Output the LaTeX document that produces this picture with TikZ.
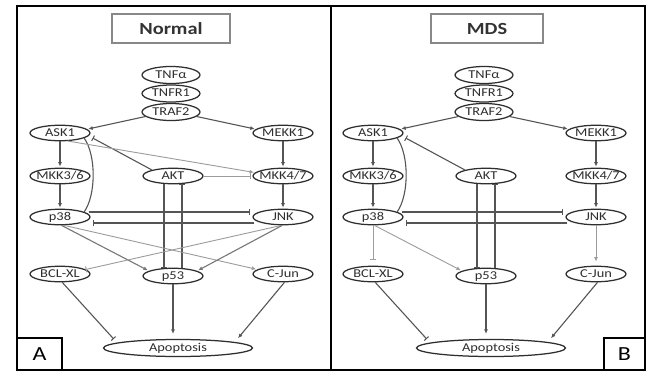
\documentclass[tikz,border=0pt]{standalone}
\usepackage{fontspec}
\setmainfont{Carlito}
\newfontfamily\nodefont[FakeStretch=1.2]{Carlito}
\usetikzlibrary{arrows.meta,calc,shapes.geometric}
\definecolor{edgec}{HTML}{555555}
\definecolor{midc}{HTML}{777777}
\definecolor{lightc}{HTML}{9C9C9C}
\definecolor{nodec}{HTML}{2E2E2E}
\definecolor{titlec}{HTML}{888888}
\begin{document}
\begin{tikzpicture}[x=1pt,y=-1pt,
  el/.style={draw=nodec, line width=1.25pt, ellipse, inner xsep=-6pt, inner ysep=-1pt,
    text height=8.5pt, text depth=2pt, minimum width=60pt, minimum height=15.5pt,
    text=nodec, font=\nodefont\fontsize{12}{12}\selectfont},
  titlebox/.style={draw=titlec, line width=1.3pt, minimum height=29pt, inner sep=0pt,
    text=black!80, font=\nodefont\bfseries\fontsize{17}{17}\selectfont},
  lblbox/.style={draw=black, line width=1.8pt, inner sep=0pt, font=\nodefont\fontsize{20}{20}\selectfont},
  frame/.style={draw=black, line width=1.6pt},
  act/.style={draw=edgec, line width=1.1pt, -{Latex[length=4.5pt,width=4pt]}, shorten >=1pt},
  inh/.style={draw=edgec, line width=1.1pt, -{Bar[width=6pt,line width=1pt]}},
  mid/.style={draw=midc},
  light/.style={draw=lightc, line width=0.9pt},
]
\useasboundingbox (0,0) rectangle (646,372);
\fill[white] (0,0) rectangle (646,372);

% frame
\draw[frame] (17,6) rectangle (645,370);
\draw[frame] (331,6) -- (331,370);

% titles and panel labels
\node[titlebox, minimum width=118pt] (tA) at (171,28.5) {Normal};
\node[titlebox, minimum width=112pt] (tB) at (487,28.5) {MDS};
\node[lblbox, minimum width=45pt, minimum height=32pt] (lA) at (39.5,354) {A};
\node[lblbox, minimum width=41pt, minimum height=32pt] (lB) at (624.5,354) {B};

\foreach \p/\dx in {A/0,B/313}{
  \begin{scope}[xshift=\dx]
    \node[el, minimum width=58pt, minimum height=17pt] (\p-TNFa) at (171,75) {TNFα};
    \node[el, minimum width=58pt, minimum height=17pt] (\p-TNFR) at (171,93.5) {TNFR1};
    \node[el, minimum width=58pt, minimum height=17pt] (\p-TRAF) at (171,112) {TRAF2};
    \node[el] (\p-ASK) at (60,133) {ASK1};
    \node[el] (\p-MEKK) at (283,133) {MEKK1};
    \node[el] (\p-MKKa) at (60,176) {MKK3/6};
    \node[el] (\p-AKT) at (173,176) {AKT};
    \node[el] (\p-MKKb) at (283,176) {MKK4/7};
    \node[el] (\p-p38) at (60,217) {p38};
    \node[el] (\p-JNK) at (283,217) {JNK};
    \node[el] (\p-BCL) at (60,274) {BCL-XL};
    \node[el] (\p-p53) at (173,276) {p53};
    \node[el] (\p-CJun) at (283,274) {C-Jun};
    \node[el, minimum width=149pt, minimum height=17pt] (\p-Apop) at (178,348) {Apoptosis};
  \end{scope}
  % common connectors
  \draw[act] (\p-TRAF.190) -- (\p-ASK.8);
  \draw[act] (\p-TRAF.-10) -- (\p-MEKK.172);
  \draw[act] (\p-ASK.south) -- (\p-MKKa.north);
  \draw[act] (\p-MKKa.south) -- (\p-p38.north);
  \draw[act] (\p-MEKK.south) -- (\p-MKKb.north);
  \draw[act] (\p-MKKb.south) -- (\p-JNK.north);
  \draw[inh] (\p-AKT.164) -- ($(\p-ASK.east)+(2,5)$);
  \draw[draw=edgec, line width=1.1pt] (\p-ASK.-12) .. controls ($(\p-ASK.-12)+(12,17)$) and ($(\p-p38.12)+(12,-17)$) .. (\p-p38.12);
  \draw[inh] ([xshift=-9pt]\p-AKT.south) -- ([xshift=-9pt]\p-p53.north);
  \draw[inh] ([xshift=9pt]\p-p53.north) -- ([xshift=9pt]\p-AKT.south);
  \draw[inh] ($(\p-p38.east)+(-2,-5)$) -- ($(\p-JNK.west)+(-2,-5)$);
  \draw[inh] ($(\p-JNK.west)+(2,6)$) -- ($(\p-p38.east)+(2,6)$);
  \draw[inh, shorten >=5pt] (\p-BCL.-75) -- (\p-Apop.175);
  \draw[act, shorten >=5pt] (\p-p53.south) -- (\p-p53.south |- \p-Apop.north);
  \draw[act, shorten >=5pt] (\p-CJun.-80) -- (\p-Apop.6);
}

% Normal-only connectors
\draw[act, light] (A-ASK.-45) -- (A-MKKb.173);
\draw[inh, light, shorten >=1pt] (A-AKT.east) -- (A-MKKb.west);
\draw[act, mid] (A-p38.-80) -- (A-p53.168);
\draw[act, light] (A-p38.-65) -- (A-CJun.170);
\draw[inh, light] (A-JNK.-100) -- (A-BCL.10);
\draw[act, mid] (A-JNK.-95) -- (A-p53.12);

% MDS-only connectors
\draw[inh, light, shorten >=6pt] (B-p38.south) -- (B-BCL.north);
\draw[act, light] (B-p38.-80) -- (B-p53.168);
\draw[act, light, shorten >=4pt] (B-JNK.south) -- (B-CJun.north);
\end{tikzpicture}
\end{document}
